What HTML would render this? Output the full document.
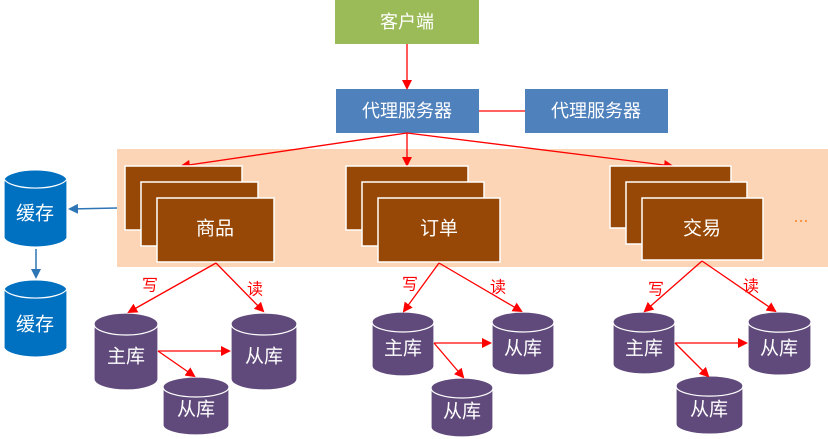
<!DOCTYPE html>
<html><head><meta charset="utf-8"><style>
html,body{margin:0;padding:0;background:#fff;}
svg{display:block;}
text{font-family:"Liberation Sans","Noto Sans CJK SC",sans-serif;fill:#fff;text-anchor:middle;dominant-baseline:central;}
</style></head><body>
<svg width="828" height="439" viewBox="0 0 828 439" xmlns="http://www.w3.org/2000/svg">
<defs>
<marker id="ar" markerWidth="10" markerHeight="10" refX="8" refY="5" orient="auto" markerUnits="userSpaceOnUse"><path d="M0,0 L10,5 L0,10 Z" fill="#ff0000"/></marker>
<marker id="ab" markerWidth="10" markerHeight="10" refX="8" refY="5" orient="auto" markerUnits="userSpaceOnUse"><path d="M0,0 L10,5 L0,10 Z" fill="#2e75b6"/></marker>
</defs>
<rect x="117" y="149" width="711" height="118" fill="#fbd5b5"/>
<rect x="335" y="0" width="144" height="44" fill="#9bbb59"/>
<text x="407" y="22" font-size="18">客户端</text>
<rect x="336" y="89" width="143" height="44" fill="#4f81bd"/>
<text x="407" y="111" font-size="18">代理服务器</text>
<rect x="525" y="89" width="143" height="44" fill="#4f81bd"/>
<text x="596" y="111" font-size="18">代理服务器</text>
<line x1="479" y1="111" x2="525" y2="111" stroke="#ff0000" stroke-width="1.3"/>
<g stroke="#ff0000" stroke-width="1.3" fill="none">
<line x1="407" y1="44" x2="407" y2="88" marker-end="url(#ar)"/>
<line x1="407" y1="133" x2="182" y2="166" marker-end="url(#ar)"/>
<line x1="407" y1="133" x2="407" y2="165" marker-end="url(#ar)"/>
<line x1="407" y1="133" x2="672" y2="166" marker-end="url(#ar)"/>
</g>
<g fill="#974806" stroke="#fff" stroke-width="1.5">
<rect x="125" y="166" width="117" height="64"/><rect x="141" y="182" width="117" height="64"/><rect x="157" y="198" width="117" height="64"/>
<rect x="346" y="166" width="122" height="64"/><rect x="362" y="182" width="122" height="64"/><rect x="378" y="198" width="122" height="64"/>
<rect x="610" y="166" width="121" height="62"/><rect x="626" y="182" width="121" height="62"/><rect x="642" y="198" width="121" height="62"/>
</g>
<text x="215" y="229" font-size="19">商品</text>
<text x="439" y="229" font-size="19">订单</text>
<text x="702" y="229" font-size="19">交易</text>
<g fill="#f79646"><rect x="795" y="220" width="2" height="2"/><rect x="800" y="220" width="2" height="2"/><rect x="805" y="220" width="2" height="2"/></g>
<g stroke="#2e75b6" stroke-width="1.5">
<line x1="117" y1="208" x2="70" y2="209" marker-end="url(#ab)"/>
<line x1="36" y1="249" x2="36" y2="277" marker-end="url(#ab)"/>
</g>
<g stroke="#fff" stroke-width="1.2">
<path d="M4,179 A32,11 0 0 1 67,179 V238 A32,11 0 0 1 4,238 Z" fill="#0070c0"/><path d="M4,179 A32,11 0 0 0 67,179" fill="none"/>
<path d="M4,289 A32,11 0 0 1 67,289 V348 A32,11 0 0 1 4,348 Z" fill="#0070c0"/><path d="M4,289 A32,11 0 0 0 67,289" fill="none"/>
</g>
<text x="35" y="214" font-size="19">缓存</text>
<text x="35" y="325" font-size="19">缓存</text>
<g stroke="#fff" stroke-width="1.2" fill="#604a7b">
<path d="M94,324 A32,11 0 0 1 158,324 V379 A32,11 0 0 1 94,379 Z"/><path d="M94,324 A32,11 0 0 0 158,324" fill="none"/>
<path d="M231,324 A33,11 0 0 1 297,324 V379 A33,11 0 0 1 231,379 Z"/><path d="M231,324 A33,11 0 0 0 297,324" fill="none"/>
<path d="M163,387 A33,10 0 0 1 229,387 V425 A33,10 0 0 1 163,425 Z"/><path d="M163,387 A33,10 0 0 0 229,387" fill="none"/>
<path d="M372,322 A31,10 0 0 1 434,322 V366 A31,10 0 0 1 372,366 Z"/><path d="M372,322 A31,10 0 0 0 434,322" fill="none"/>
<path d="M492,322 A31,10 0 0 1 554,322 V365 A31,10 0 0 1 492,365 Z"/><path d="M492,322 A31,10 0 0 0 554,322" fill="none"/>
<path d="M431,388 A31,10 0 0 1 493,388 V427 A31,10 0 0 1 431,427 Z"/><path d="M431,388 A31,10 0 0 0 493,388" fill="none"/>
<path d="M613,322 A31,10 0 0 1 675,322 V364 A31,10 0 0 1 613,364 Z"/><path d="M613,322 A31,10 0 0 0 675,322" fill="none"/>
<path d="M748,322 A31,10 0 0 1 811,322 V365 A31,10 0 0 1 748,365 Z"/><path d="M748,322 A31,10 0 0 0 811,322" fill="none"/>
<path d="M676,386 A33,10 0 0 1 743,386 V424 A33,10 0 0 1 676,424 Z"/><path d="M676,386 A33,10 0 0 0 743,386" fill="none"/>
</g>
<g font-size="19">
<text x="126" y="357">主库</text><text x="264" y="357">从库</text><text x="196" y="410">从库</text>
<text x="403" y="349">主库</text><text x="523" y="349">从库</text><text x="462" y="412">从库</text>
<text x="644" y="349">主库</text><text x="779" y="349">从库</text><text x="709" y="410">从库</text>
</g>
<g stroke="#ff0000" stroke-width="1.3" fill="none">
<line x1="216" y1="263" x2="129" y2="312" marker-end="url(#ar)"/>
<line x1="216" y1="263" x2="263" y2="311" marker-end="url(#ar)"/>
<line x1="158" y1="351" x2="229" y2="351" marker-end="url(#ar)"/>
<line x1="158" y1="351" x2="194" y2="376" marker-end="url(#ar)"/>
<line x1="439" y1="263" x2="404" y2="311" marker-end="url(#ar)"/>
<line x1="439" y1="263" x2="521" y2="311" marker-end="url(#ar)"/>
<line x1="434" y1="343" x2="490" y2="343" marker-end="url(#ar)"/>
<line x1="434" y1="343" x2="463" y2="377" marker-end="url(#ar)"/>
<line x1="702" y1="261" x2="645" y2="311" marker-end="url(#ar)"/>
<line x1="702" y1="261" x2="775" y2="311" marker-end="url(#ar)"/>
<line x1="675" y1="343" x2="746" y2="343" marker-end="url(#ar)"/>
<line x1="675" y1="343" x2="708" y2="376" marker-end="url(#ar)"/>
</g>
<g font-size="16">
<text x="150" y="286" style="fill:#ff0000">写</text><text x="255" y="290" style="fill:#ff0000">读</text>
<text x="410" y="285" style="fill:#ff0000">写</text><text x="498" y="288" style="fill:#ff0000">读</text>
<text x="656" y="290" style="fill:#ff0000">写</text><text x="751" y="287" style="fill:#ff0000">读</text>
</g>
</svg>
</body></html>
